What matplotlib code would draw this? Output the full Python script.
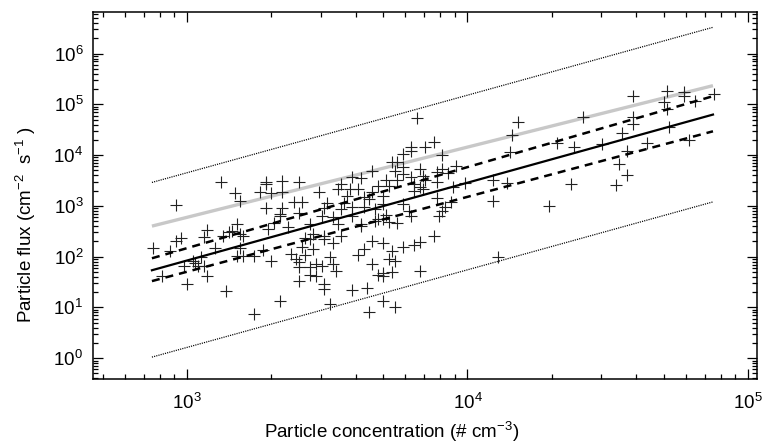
import numpy as np
import matplotlib
matplotlib.use("Agg")
import matplotlib.pyplot as plt
from matplotlib.ticker import FixedLocator, NullFormatter

plt.rcParams['font.family'] = ['Liberation Sans', 'DejaVu Sans']
plt.rcParams['mathtext.fontset'] = 'custom'
plt.rcParams['mathtext.rm'] = 'Liberation Sans'
plt.rcParams['mathtext.it'] = 'Liberation Sans'
plt.rcParams['mathtext.bf'] = 'Liberation Sans'

# Scatter data (log10 of concentration [# cm-3] and flux [cm-2 s-1])
log_conc = [
    3.12, 3.17, 3.19, 2.96, 3.18, 3.07, 3.06, 2.98, 2.96, 3.13, 3.15, 3.16, 3.19, 3.20, 2.88,
    2.94, 3.10, 3.19, 3.18, 3.20, 3.05, 3.02, 3.03, 2.99, 3.06, 3.04, 2.91, 3.07, 3.00, 3.14,
    3.28, 3.28, 3.34, 3.40, 3.26, 3.30, 3.34, 3.47, 3.28, 3.38, 3.41, 3.34, 3.33, 3.40, 3.33,
    3.31, 3.29, 3.36, 3.44, 3.45, 3.44, 3.42, 3.41, 3.45, 3.27, 3.24, 3.30, 3.37, 3.39, 3.40,
    3.42, 3.40, 3.44, 3.46, 3.44, 3.46, 3.40, 3.33, 3.24,
    3.59, 3.62, 3.66, 3.55, 3.54, 3.58, 3.61, 3.66, 3.57, 3.63, 3.65, 3.50, 3.56, 3.49, 3.55,
    3.59, 3.63, 3.67, 3.48, 3.52, 3.59, 3.68, 3.54, 3.62, 3.62, 3.67, 3.49, 3.55, 3.49, 3.52,
    3.66, 3.63, 3.61, 3.66, 3.51, 3.48, 3.52, 3.53, 3.68, 3.49, 3.49, 3.59, 3.64, 3.51, 3.65,
    3.82, 3.80, 3.80, 3.77, 3.85, 3.73, 3.75, 3.74, 3.77, 3.83, 3.71, 3.75, 3.77, 3.80, 3.84,
    3.68, 3.72, 3.81, 3.83, 3.85, 3.70, 3.81, 3.84, 3.70, 3.77, 3.79, 3.71, 3.80, 3.70, 3.72,
    3.75, 3.70, 3.77, 3.81, 3.83, 3.73, 3.72, 3.74, 3.70, 3.73, 3.70, 3.83, 3.70, 3.74,
    3.88, 3.91, 3.96, 3.91, 3.89, 3.93, 3.89, 3.95, 3.99, 3.89, 3.94, 3.92, 3.91, 3.90, 3.88,
    4.18, 4.16, 4.15, 4.32, 4.09, 4.14, 4.09, 4.29, 4.11,
    4.59, 4.41, 4.59, 4.59, 4.55, 4.38, 4.48, 4.64, 4.57, 4.54, 4.57, 4.37, 4.53,
    4.71, 4.77, 4.77, 4.88, 4.70, 4.71, 4.81, 4.72, 4.79,
]
log_flux = [
    3.48, 3.25, 3.09, 3.01, 2.64, 2.52, 2.38, 2.36, 2.30, 2.40, 2.48, 2.50, 2.44, 2.40, 2.17,
    2.11, 2.17, 2.17, 2.01, 2.01, 1.99, 1.91, 1.87, 1.81, 1.81, 1.81, 1.61, 1.61, 1.46, 1.32,
    3.48, 3.44, 3.50, 3.48, 3.27, 3.25, 3.27, 3.27, 2.95, 3.07, 3.07, 2.95, 2.85, 2.87, 2.80,
    2.66, 2.54, 2.58, 2.64, 2.44, 2.34, 2.36, 2.20, 2.15, 2.13, 2.01, 1.91, 2.05, 1.95, 1.89,
    2.03, 1.79, 1.79, 1.85, 1.63, 1.61, 1.52, 1.12, 0.87,
    3.56, 3.54, 3.68, 3.44, 3.33, 3.33, 3.33, 3.27, 3.19, 3.17, 3.13, 3.05, 3.05, 2.95, 2.93,
    2.97, 2.97, 2.93, 2.80, 2.78, 2.80, 2.74, 2.64, 2.64, 2.60, 2.70, 2.40, 2.40, 2.34, 2.26,
    2.30, 2.15, 2.03, 1.85, 1.99, 1.81, 1.85, 1.71, 1.63, 1.46, 1.36, 1.34, 1.38, 1.06, 0.91,
    4.74, 4.17, 4.09, 4.02, 4.17, 3.86, 3.86, 3.68, 3.76, 3.72, 3.52, 3.52, 3.62, 3.56, 3.58,
    3.39, 3.39, 3.43, 3.37, 3.52, 3.19, 3.29, 3.33, 3.03, 3.03, 2.89, 2.83, 2.80, 2.74, 2.68,
    2.66, 2.26, 2.20, 2.22, 2.28, 2.11, 1.95, 1.91, 1.67, 1.69, 1.61, 1.71, 1.12, 1.00,
    4.25, 4.00, 3.78, 3.72, 3.66, 3.64, 3.48, 3.37, 3.46, 3.15, 3.07, 2.97, 2.89, 2.80, 2.40,
    4.65, 4.39, 4.07, 4.23, 3.52, 3.46, 3.09, 2.99, 1.99,
    5.16, 4.76, 4.76, 4.61, 4.43, 4.17, 4.21, 4.23, 4.09, 3.82, 3.60, 3.44, 3.41,
    5.26, 5.24, 5.16, 5.20, 5.04, 4.90, 5.06, 4.55, 4.29,
]

# Fit lines (end points, concentration in # cm-3, flux in cm-2 s-1)
line_conc = [750, 75000]
fit_flux = [54, 63000]
ci_upper = [93, 145000]
ci_lower = [33, 29500]
gray_flux = [400, 234000]
pi_upper = [2900, 3.3e6]
pi_lower = [1.05, 1200]

# Axis ticks
x_major = [1e3, 1e4, 1e5]
y_major = [1e0, 1e1, 1e2, 1e3, 1e4, 1e5, 1e6]

conc = 10 ** np.array(log_conc)
flux = 10 ** np.array(log_flux)

fig = plt.figure(figsize=(7.65, 4.45), dpi=100)
ax = fig.add_axes([93 / 765, 1 - 379 / 445, (757 - 93) / 765, (379 - 12) / 445])

ax.plot(conc, flux, linestyle='none', marker='+', markersize=8.5, markeredgewidth=0.8,
        color='#222222', zorder=3)
ax.plot(line_conc, gray_flux, color='#c8c8c8', lw=2.4, solid_capstyle='butt', zorder=2)
ax.plot(line_conc, fit_flux, color='black', lw=1.6, zorder=4)
ax.plot(line_conc, ci_upper, color='black', lw=1.8, dashes=(3.2, 2.4), zorder=4)
ax.plot(line_conc, ci_lower, color='black', lw=1.8, dashes=(3.2, 2.4), zorder=4)
ax.plot(line_conc, pi_upper, color='black', lw=0.9, dashes=(0.9, 0.9), zorder=2)
ax.plot(line_conc, pi_lower, color='black', lw=0.9, dashes=(0.9, 0.9), zorder=2)

ax.set_xscale('log')
ax.set_yscale('log')
xlo, xhi = 10 ** 2.665, 10 ** 5.032
ylo, yhi = 10 ** -0.41, 10 ** 6.82
ax.set_xlim(xlo, xhi)
ax.set_ylim(ylo, yhi)


def minors(lo, hi):
    vals = []
    for e in range(int(np.floor(np.log10(lo))), int(np.ceil(np.log10(hi))) + 1):
        for m in range(2, 10):
            v = m * 10.0 ** e
            if lo <= v <= hi:
                vals.append(v)
    return vals


ax.xaxis.set_major_locator(FixedLocator(x_major))
ax.yaxis.set_major_locator(FixedLocator(y_major))
ax.xaxis.set_minor_locator(FixedLocator(minors(xlo, xhi)))
ax.yaxis.set_minor_locator(FixedLocator(minors(ylo, yhi)))
ax.xaxis.set_minor_formatter(NullFormatter())
ax.yaxis.set_minor_formatter(NullFormatter())
ax.set_xticklabels([r'$\mathdefault{10^{%d}}$' % int(round(np.log10(v))) for v in x_major])
ax.set_yticklabels([r'$\mathdefault{10^{%d}}$' % int(round(np.log10(v))) for v in y_major])

ax.tick_params(which='both', direction='in', top=True, right=True, width=0.9)
ax.tick_params(which='major', length=7, labelsize=13.5)
ax.tick_params(axis='x', which='major', pad=10)
ax.tick_params(axis='y', which='major', pad=7)
ax.tick_params(which='minor', length=3.5)
for s in ax.spines.values():
    s.set_linewidth(1.1)

ax.set_xlabel('Particle concentration (# cm$^{-3}$)', fontsize=13.5)
ax.set_ylabel('Particle flux (cm$^{-2}$  s$^{-1}$ )', fontsize=13.5)
ax.xaxis.set_label_coords(0.45, -0.112)
ax.yaxis.set_label_coords(-0.083, 0.42)

fig.savefig('out.png', dpi=100)
